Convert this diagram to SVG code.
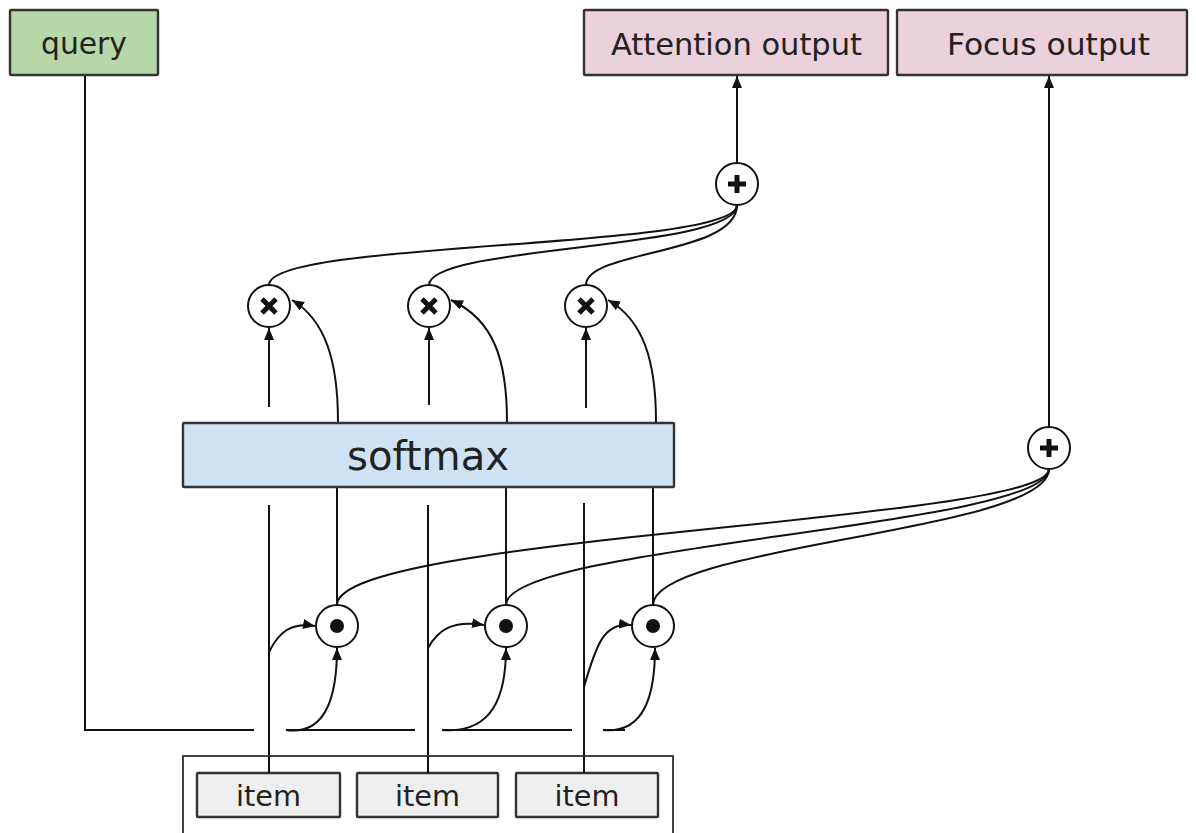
<svg xmlns="http://www.w3.org/2000/svg" width="1196" height="833" viewBox="0 0 1196 833">
<defs>
<marker id="ah" viewBox="0 0 12 10" refX="12" refY="5" markerWidth="12" markerHeight="10" markerUnits="userSpaceOnUse" orient="auto">
<path d="M0,0 L12,5 L0,10 z" fill="#111"/>
</marker>
<style>
.ln{fill:none;stroke:#111;stroke-width:2}
.ar{fill:none;stroke:#111;stroke-width:2;marker-end:url(#ah)}
.box{stroke:#333;stroke-width:2.4}
.op{fill:#fff;stroke:#111;stroke-width:2}
.sym{stroke:#111;stroke-width:5;stroke-linecap:butt}
.t{font-family:"DejaVu Sans","Liberation Sans",sans-serif;fill:#222;text-anchor:middle}
</style>
</defs>
<rect width="1196" height="833" fill="#fff"/>
<g id="connectors">
<path class="ln" d="M85 75 V730 H254"/>
<path class="ln" d="M286 730 H415"/>
<path class="ln" d="M442 730 H572"/>
<path class="ln" d="M603 730 H625"/>
<path class="ar" d="M286 730 C328 736 337 692 337 648"/>
<path class="ar" d="M442 730 C494 734 506 694 506 648"/>
<path class="ar" d="M603 730 C645 734 655 694 655 648"/>
<path class="ln" d="M269 773 V505"/>
<path class="ln" d="M428 773 V505"/>
<path class="ln" d="M584 773 V503"/>
<path class="ar" d="M269 652 C279 632 291 622 315 626"/>
<path class="ar" d="M428 648 C438 630 452 620 484 625"/>
<path class="ar" d="M584 687 C596 645 604 622 631 625"/>
<path class="ln" d="M337 605 V487"/>
<path class="ln" d="M506 605 V487"/>
<path class="ln" d="M653 605 V487"/>
<path class="ln" d="M337 605 C337 535 1049 522 1049 469"/>
<path class="ln" d="M506 605 C506 545 1049 527 1049 469"/>
<path class="ln" d="M653 605 C653 545 1049 532 1049 469"/>
<path class="ar" d="M269 407 V328"/>
<path class="ar" d="M429 405 V328"/>
<path class="ar" d="M586 408 V328"/>
<path class="ar" d="M338 422 C338 360 325 320 292 300"/>
<path class="ar" d="M507 422 C507 360 494 320 451 300"/>
<path class="ar" d="M656 422 C656 360 643 320 608 300"/>
<path class="ln" d="M269 285 C269 240 737 250 737 205"/>
<path class="ln" d="M429 285 C429 245 737 250 737 205"/>
<path class="ln" d="M586 285 C586 250 737 255 737 205"/>
<path class="ar" d="M737 163 V76"/>
<path class="ar" d="M1049 427 V76"/>
</g>
<g id="query">
<rect class="box" x="10" y="10" width="148" height="65" rx="1" fill="#b6d7a8"/>
<text class="t" x="84" y="54" font-size="30" textLength="86" lengthAdjust="spacingAndGlyphs">query</text>
</g>
<g id="attention-output">
<rect class="box" x="584" y="10" width="304" height="65" rx="1" fill="#ead1dc"/>
<text class="t" x="736.5" y="55" font-size="30" textLength="251" lengthAdjust="spacingAndGlyphs">Attention output</text>
</g>
<g id="focus-output">
<rect class="box" x="897" y="10" width="290" height="65" rx="1" fill="#ead1dc"/>
<text class="t" x="1048.5" y="55" font-size="30" textLength="203" lengthAdjust="spacingAndGlyphs">Focus output</text>
</g>
<g id="softmax">
<rect class="box" x="183" y="423" width="491" height="64" rx="1" fill="#cfe2f3"/>
<text class="t" x="428" y="470" font-size="40" textLength="162" lengthAdjust="spacingAndGlyphs">softmax</text>
</g>
<g id="items">
<rect x="183" y="756" width="490" height="90" fill="#fff" stroke="#444" stroke-width="2"/>
</g>
<g id="item1">
<rect class="box" x="197" y="773" width="143" height="44" rx="1" fill="#efefef"/>
<text class="t" x="268.5" y="806" font-size="28" textLength="65" lengthAdjust="spacingAndGlyphs">item</text>
</g>
<g id="item2">
<rect class="box" x="357" y="773" width="141" height="44" rx="1" fill="#efefef"/>
<text class="t" x="427.5" y="806" font-size="28" textLength="65" lengthAdjust="spacingAndGlyphs">item</text>
</g>
<g id="item3">
<rect class="box" x="516" y="773" width="142" height="44" rx="1" fill="#efefef"/>
<text class="t" x="587" y="806" font-size="28" textLength="65" lengthAdjust="spacingAndGlyphs">item</text>
</g>
<g id="item-lines">
<path class="ln" d="M269 773 V756"/>
<path class="ln" d="M428 773 V756"/>
<path class="ln" d="M584 773 V756"/>
</g>
<g id="dot1"><circle class="op" cx="337" cy="626" r="21"/><circle cx="337" cy="626" r="7" fill="#111"/></g>
<g id="dot2"><circle class="op" cx="506" cy="626" r="21"/><circle cx="506" cy="626" r="7" fill="#111"/></g>
<g id="dot3"><circle class="op" cx="653" cy="626" r="21"/><circle cx="653" cy="626" r="7" fill="#111"/></g>
<g id="mul1"><circle class="op" cx="269" cy="306" r="21"/><path class="sym" d="M262 299 L276 313 M276 299 L262 313"/></g>
<g id="mul2"><circle class="op" cx="429" cy="306" r="21"/><path class="sym" d="M422 299 L436 313 M436 299 L422 313"/></g>
<g id="mul3"><circle class="op" cx="586" cy="306" r="21"/><path class="sym" d="M579 299 L593 313 M593 299 L579 313"/></g>
<g id="plus-attention"><circle class="op" cx="737" cy="184" r="21"/><path class="sym" d="M728 184 H746 M737 175 V193"/></g>
<g id="plus-focus"><circle class="op" cx="1049" cy="448" r="21"/><path class="sym" d="M1040 448 H1058 M1049 439 V457"/></g>
</svg>
